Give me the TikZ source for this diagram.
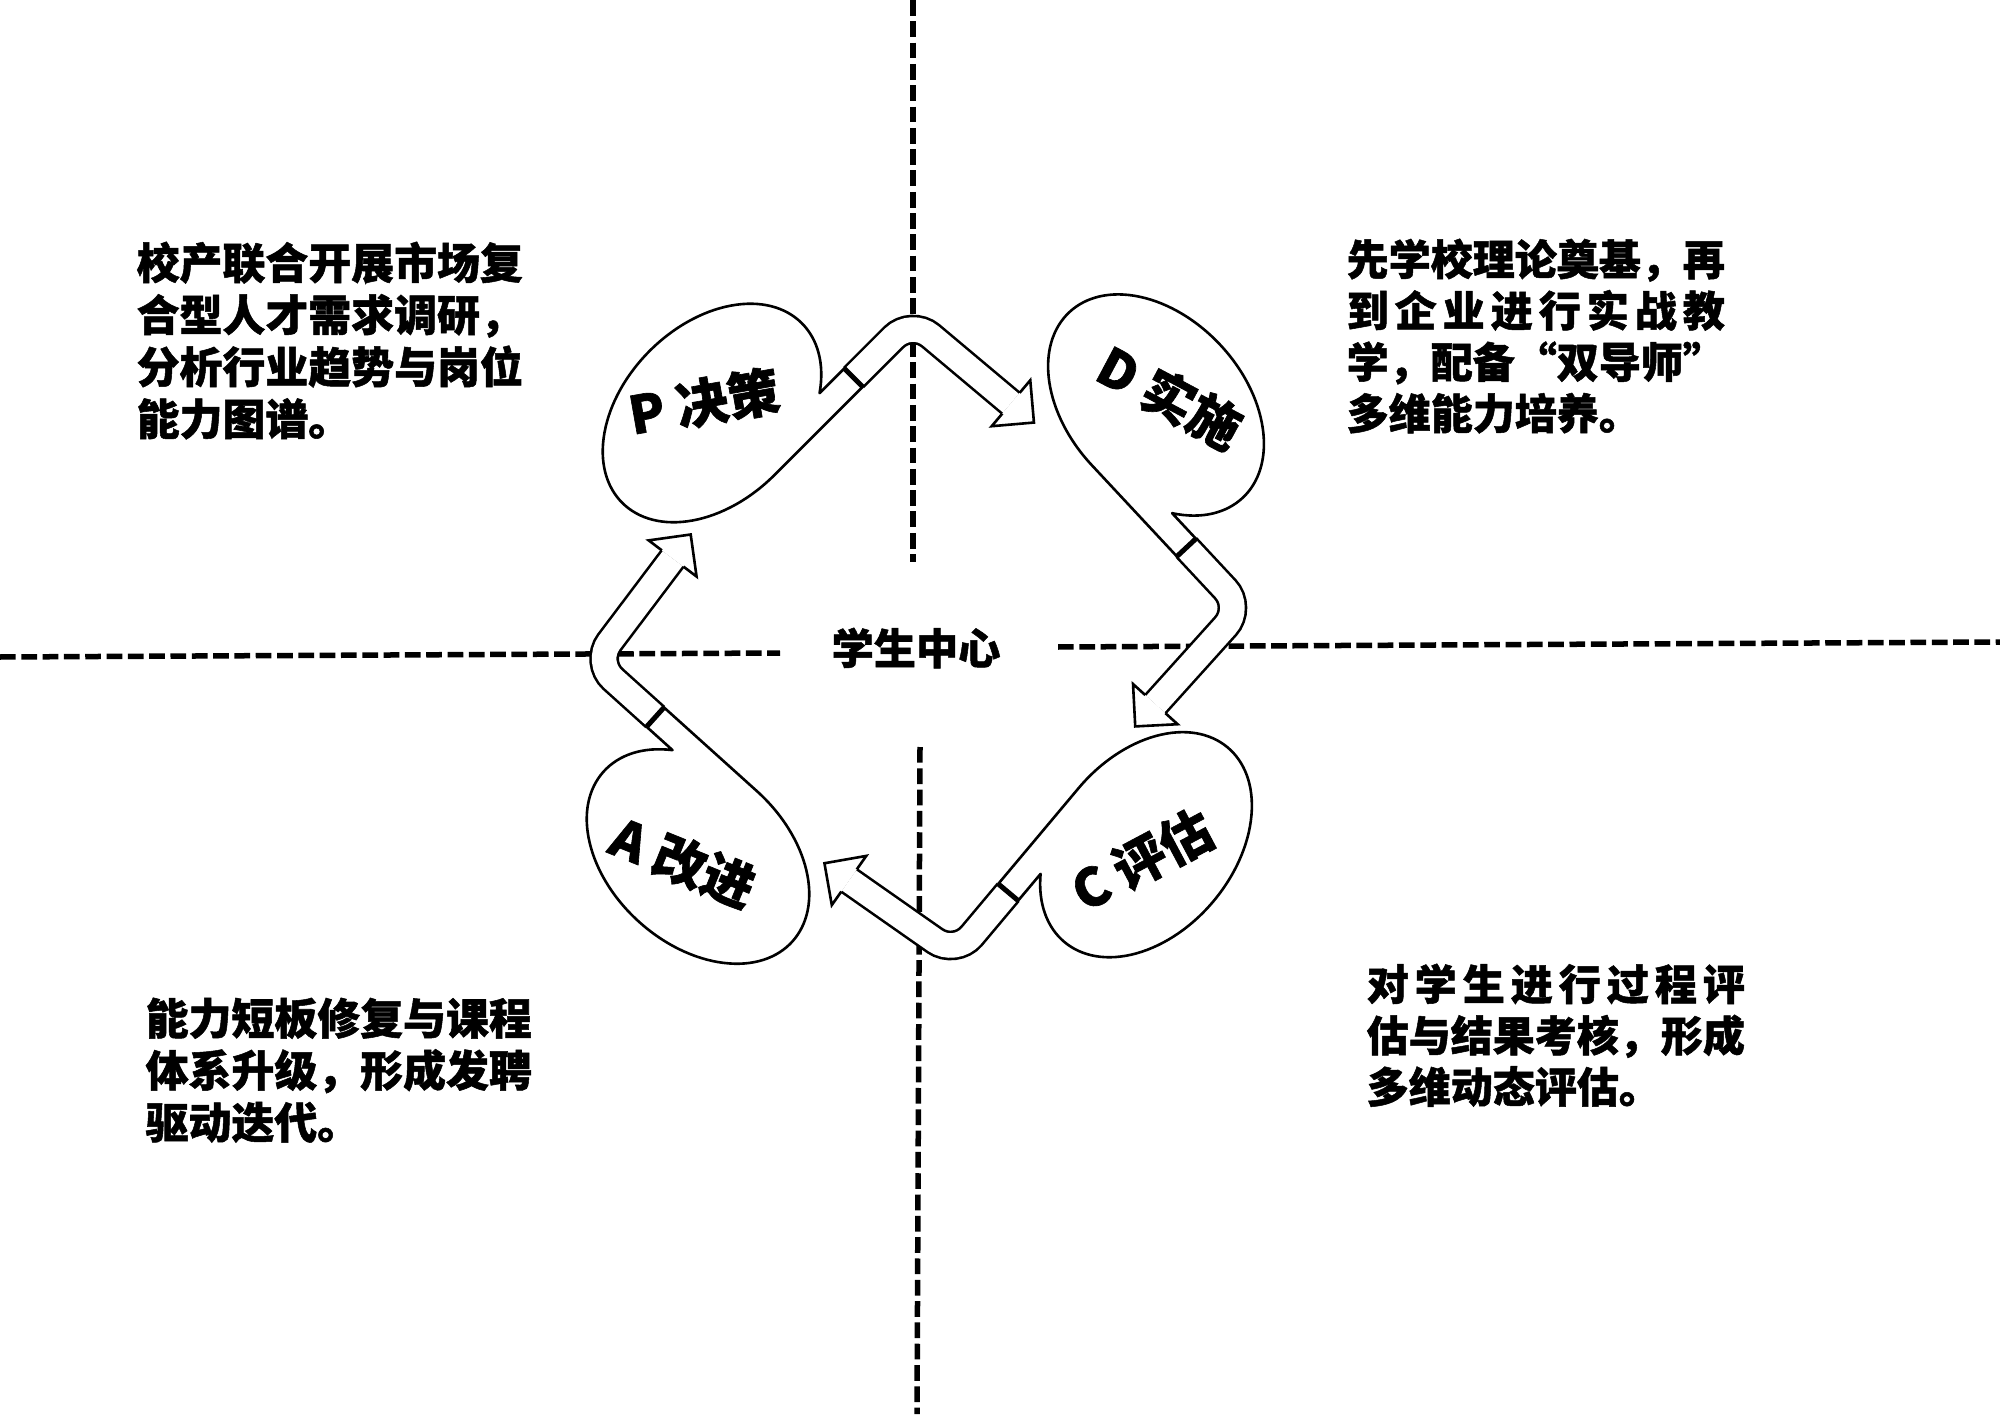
\documentclass[tikz,border=0pt]{standalone}
\usepackage{fontspec}
\newfontfamily\cjk{Noto Sans CJK SC}[BoldFeatures={FakeBold=1.2}]
\usetikzlibrary{calc}

\tikzset{
  pdblob/.style={draw=black, line width=0.026cm, fill=white, line join=round},
  pdshaft/.style={draw=black, line width=0.026cm, double=white, double distance=0.245cm, rounded corners=0.25cm},
  pdhead/.style={draw=black, line width=0.026cm, fill=white, line join=miter},
  pdtick/.style={draw=black, line width=0.05cm},
  divider/.style={draw=black, line width=0.055cm, dash pattern=on 0.157cm off 0.056cm},
  paraA/.style={font=\cjk\bfseries\fontsize{12.2pt}{14.8pt}\selectfont, align=left, inner sep=0pt, anchor=north west},
  paraB/.style={font=\cjk\bfseries\fontsize{11.95pt}{14.6pt}\selectfont, align=left, inner sep=0pt, anchor=north west},
  blobtext/.style={font=\cjk\bfseries\fontsize{14.8pt}{17pt}\selectfont, inner sep=0pt},
  centertext/.style={font=\cjk\bfseries\fontsize{12pt}{14pt}\selectfont, inner sep=0pt},
}

% one PDCA unit: #1,#2 = ellipse centre, #3 = direction of its tail
\newcommand{\pdcaunit}[3]{%
  \begin{scope}[shift={(#1,#2)}, rotate=#3]
    \path[pdblob] (-44.8:127 and 88) arc[start angle=-44.8, end angle=270, x radius=127, y radius=88]
      -- (125,-88) -- (125,-62) -- cycle;
    \draw[pdshaft] (125,-75) -- (207,-75) -- (218.3,-204.5);
    \path[pdhead] (231.75,-203.3) -- (248.2,-201.9) -- (220.9,-234.4) -- (188.4,-207.1) -- (204.85,-205.7);
    \draw[pdtick] (125,-88) -- (125,-62);
  \end{scope}}

\begin{document}
\begin{tikzpicture}[x=0.01cm, y=0.01cm]
  \fill[white] (0,0) rectangle (2000,1414);
  \useasboundingbox (0,0) rectangle (2000,1414);

  % quadrant dividers
  \coordinate (vt1) at (913,1414);  \coordinate (vt2) at (913,852);
  \coordinate (vb1) at (920,667);   \coordinate (vb2) at (917,0);
  \coordinate (hl1) at (0,757);     \coordinate (hl2) at (780,761);
  \coordinate (hr1) at (1058,767);  \coordinate (hr2) at (2000,772);
  \draw[divider] (vt1) -- (vt2);
  \draw[divider] (vb1) -- (vb2);
  \draw[divider] (hl1) -- (hl2);
  \draw[divider] (hr1) -- (hr2);

  % PDCA units
  \pdcaunit{712}{1001}{45}
  \pdcaunit{1156}{1009}{-47}
  \pdcaunit{1146}{569.3}{-130}
  \pdcaunit{698}{557.5}{138}

  % labels in the bubbles
  \node[blobtext, rotate=10]  (lp) at (704,1012) {P 决策};
  \node[blobtext, rotate=-28] (ld) at (1170,1017) {D 实施};
  \node[blobtext, rotate=28]  (lc) at (1142,554) {C 评估};
  \node[blobtext, rotate=-22] (la) at (683,552) {A 改进};

  \node[centertext] (center) at (916,766) {学生中心};

  % quadrant texts
  \node[paraA] (tl) at (136,1173) {校产联合开展市场复\\合型人才需求调研，\\分析行业趋势与岗位\\能力图谱。};
  \node[paraB] (tr) at (1346,1176) {先学校理论奠基，再\\
    \makebox[9em]{到\hfill 企\hfill 业\hfill 进\hfill 行\hfill 实\hfill 战\hfill 教}\\
    \makebox[9em]{学\hfill ，\hfill 配\hfill 备\hfill “\hfill 双\hfill 导\hfill 师\hfill ”}\\
    多维能力培养。};
  \node[paraA] (bl) at (145,417) {能力短板修复与课程\\体系升级，形成发聘\\驱动迭代。};
  \node[paraB] (br) at (1366,451) {\makebox[9em]{对\hfill 学\hfill 生\hfill 进\hfill 行\hfill 过\hfill 程\hfill 评}\\
    估与结果考核，形成\\多维动态评估。};
\end{tikzpicture}
\end{document}
